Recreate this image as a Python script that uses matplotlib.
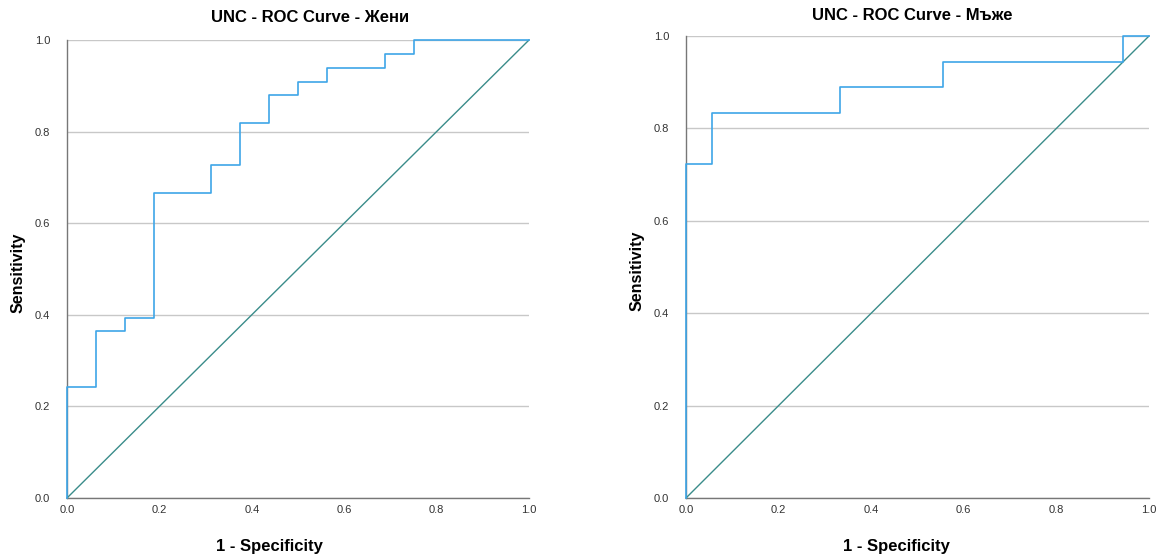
import matplotlib
matplotlib.use("Agg")
import matplotlib.pyplot as plt

plt.rcParams['font.family'] = ['Liberation Sans', 'DejaVu Sans']

# ROC vertices (1 - specificity, sensitivity), drawn as steps-post
women_fpr = [0.0, 0.0, 0.0625, 0.125, 0.1875, 0.3125, 0.375, 0.4375, 0.5, 0.5625, 0.6875, 0.75, 1.0]
women_tpr = [0.0, 0.242, 0.364, 0.394, 0.667, 0.727, 0.818, 0.879, 0.909, 0.939, 0.970, 1.0, 1.0]

men_fpr = [0.0, 0.0, 0.0556, 0.333, 0.556, 0.944, 1.0]
men_tpr = [0.0, 0.722, 0.833, 0.889, 0.944, 1.0, 1.0]

ref_line = [0.0, 1.0]
ticks = [0.0, 0.2, 0.4, 0.6, 0.8, 1.0]
tick_labels = ["0.0", "0.2", "0.4", "0.6", "0.8", "1.0"]

titles = ["UNC - ROC Curve - Жени", "UNC - ROC Curve - Мъже"]

ROC_COLOR = "#3ea6e8"
DIAG_COLOR = "#3a8c8a"

fig = plt.figure(figsize=(11.6, 5.58), dpi=100)

ax1 = fig.add_axes([67/1160, 1 - 498/558, 462/1160, 458/558])
ax2 = fig.add_axes([686/1160, 1 - 498/558, 463/1160, 462/558])

for ax, fpr, tpr in [(ax1, women_fpr, women_tpr), (ax2, men_fpr, men_tpr)]:
    ax.plot(ref_line, ref_line, color=DIAG_COLOR, lw=1.0, clip_on=False, zorder=3)
    ax.plot(fpr, tpr, drawstyle='steps-post', color=ROC_COLOR, lw=1.2, clip_on=False, zorder=4)
    ax.set_xlim(0, 1)
    ax.set_ylim(0, 1)
    ax.set_xticks(ticks)
    ax.set_xticklabels(tick_labels)
    ax.set_yticks(ticks)
    ax.set_yticklabels(tick_labels)
    ax.tick_params(axis='both', length=0, labelsize=8, colors='#333333')
    ax.tick_params(axis='x', pad=5)
    ax.tick_params(axis='y', pad=12)
    ax.grid(axis='y', color='#c8c8c8', lw=1.0)
    ax.set_axisbelow(True)
    for s in ['top', 'right']:
        ax.spines[s].set_visible(False)
    for s in ['left', 'bottom']:
        ax.spines[s].set_color('#777777')
        ax.spines[s].set_linewidth(1.0)

for ax in [ax1, ax2]:
    for lab in ax.get_yticklabels():
        lab.set_verticalalignment('center_baseline')

fig.text(310/1160, 1 - 18/558, titles[0], ha='center', va='center', fontsize=12, fontweight='bold')
fig.text(912/1160, 1 - 16/558, titles[1], ha='center', va='center', fontsize=12, fontweight='bold')

fig.text(269/1160, 1 - 547/558, "1 - Specificity", ha='center', va='center', fontsize=12, fontweight='bold')
fig.text(896/1160, 1 - 547/558, "1 - Specificity", ha='center', va='center', fontsize=12, fontweight='bold')

fig.text(18/1160, 1 - 273/558, "Sensitivity", ha='center', va='center', rotation=90, fontsize=11.5, fontweight='bold')
fig.text(637/1160, 1 - 271/558, "Sensitivity", ha='center', va='center', rotation=90, fontsize=11.5, fontweight='bold')

fig.savefig("out.png", dpi=100)
